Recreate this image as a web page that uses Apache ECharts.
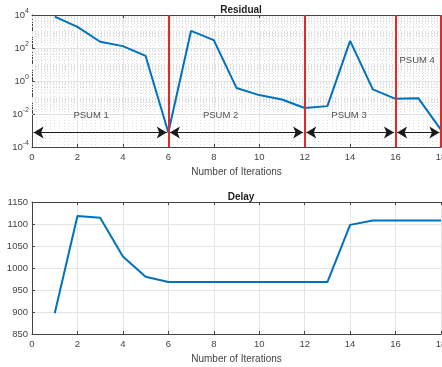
<!DOCTYPE html>
<html>
<head>
<meta charset="utf-8">
<script src="https://cdn.jsdelivr.net/npm/echarts@6/dist/echarts.min.js"></script>
<style>
  html, body { margin: 0; padding: 0; background: #fff; }
  #chart { width: 442px; height: 367px; }
</style>
</head>
<body>
<div id="chart"></div>
<script>
// iterations 1..18
var iterations = [1, 2, 3, 4, 5, 6, 7, 8, 9, 10, 11, 12, 13, 14, 15, 16, 17, 18];
var residual = [8000, 1900, 240, 130, 33, 0.00075, 1100, 300, 0.38, 0.14, 0.076, 0.023, 0.03, 270, 0.31, 0.083, 0.091, 0.0011];
var delay = [897, 1118, 1114, 1026, 980, 968, 968, 968, 968, 968, 968, 968, 968, 1098, 1108, 1108, 1108, 1108];

// PSUM boundaries (red lines) and the arrow spans between them
var boundaries = [6, 12, 16, 18];
var psumSpans = [[0, 6], [6, 12], [12, 16], [16, 18]];
var arrowY = 0.00075;
var psumLabels = [
  ['PSUM 1', 2.6, 0.008],
  ['PSUM 2', 8.3, 0.008],
  ['PSUM 3', 13.95, 0.008],
  ['PSUM 4', 16.95, 18]
];

var font = '"Liberation Sans", Arial, sans-serif';
var axisColor = '#444';
var lineBlue = '#0072BD';
var minorStyle = { color: '#e0e0e0', type: [1, 2], width: 1 };

function toPairs(ys) {
  return ys.map(function (y, i) { return [iterations[i], y]; });
}

// minor log grid values (2..9 per decade, plus odd decades)
var minorLog = [];
for (var e = -4; e < 4; e++) {
  for (var m = 1; m <= 9; m++) {
    if (m === 1 && e % 2 === 0) continue;
    minorLog.push({ yAxis: m * Math.pow(10, e) });
  }
}

var arrowLines = psumSpans.map(function (s) {
  return [
    { coord: [s[0] + 0.07, arrowY] },
    { coord: [s[1] - 0.07, arrowY] }
  ];
});

var xBase = {
  type: 'value', min: 0, max: 18, interval: 2,
  axisLine: { show: true, onZero: false, lineStyle: { color: axisColor, width: 1 } },
  axisTick: { show: true, inside: true, length: 3, lineStyle: { color: axisColor } },
  axisLabel: { color: axisColor, fontSize: 9.5, fontFamily: font, margin: 5 },
  splitLine: { show: true, lineStyle: { color: '#e4e4e4', width: 1 } },
  name: 'Number of Iterations', nameLocation: 'middle', nameGap: 20,
  nameTextStyle: { color: axisColor, fontSize: 10, fontFamily: font }
};

function topX(gridIndex) {
  return {
    type: 'value', min: 0, max: 18, interval: 2, gridIndex: gridIndex, position: 'top',
    axisLine: { show: true, lineStyle: { color: axisColor, width: 1 } },
    axisTick: { show: true, inside: true, length: 3, lineStyle: { color: axisColor } },
    axisLabel: { show: false }, splitLine: { show: false }
  };
}

var option = {
  animation: false,
  backgroundColor: '#fff',
  title: [
    { text: 'Residual', left: 236, top: 0, textAlign: 'center',
      textStyle: { fontSize: 10, fontWeight: 'bold', color: '#222', fontFamily: font } },
    { text: 'Delay', left: 236, top: 187, textAlign: 'center',
      textStyle: { fontSize: 10, fontWeight: 'bold', color: '#222', fontFamily: font } }
  ],
  grid: [
    { left: 32, right: 1, top: 15, height: 132, containLabel: false, outerBoundsMode: 'none' },
    { left: 32, right: 1, top: 202, height: 132, containLabel: false, outerBoundsMode: 'none' }
  ],
  xAxis: [
    Object.assign({}, xBase, {
      gridIndex: 0,
      minorTick: { show: true, splitNumber: 10, length: 0 },
      minorSplitLine: { show: true, lineStyle: minorStyle }
    }),
    Object.assign({}, xBase, { gridIndex: 1 }),
    topX(0),
    topX(1)
  ],
  yAxis: [
    {
      type: 'log', gridIndex: 0, min: 1e-4, max: 1e4, logBase: 10, interval: 2,
      axisLine: { show: true, lineStyle: { color: axisColor, width: 1 } },
      axisTick: { show: true, inside: true, length: 3, lineStyle: { color: axisColor } },
      splitLine: { show: true, lineStyle: { color: '#e4e4e4', width: 1 } },
      axisLabel: {
        margin: 3, color: axisColor, fontFamily: font,
        formatter: function (v) {
          var ex = Math.round(Math.log10(v));
          return '{b|10}{s|' + ex + '}';
        },
        rich: {
          b: { fontSize: 9.5, color: axisColor, fontFamily: font },
          s: { fontSize: 7, color: axisColor, fontFamily: font, padding: [0, 0, 7, 0] }
        }
      }
    },
    {
      type: 'value', gridIndex: 1, min: 850, max: 1150, interval: 50,
      axisLine: { show: true, lineStyle: { color: axisColor, width: 1 } },
      axisTick: { show: true, inside: true, length: 3, lineStyle: { color: axisColor } },
      splitLine: { show: true, lineStyle: { color: '#e4e4e4', width: 1 } },
      axisLabel: {
        margin: 4, color: axisColor, fontSize: 9.5, fontFamily: font,
        formatter: function (v) { return String(v); }
      }
    }
  ],
  series: [
    {
      // minor log grid
      type: 'line', xAxisIndex: 0, yAxisIndex: 0, data: [], silent: true, z: 1,
      markLine: {
        z: 1, silent: true, symbol: 'none', label: { show: false }, animation: false,
        lineStyle: minorStyle,
        data: minorLog
      }
    },
    {
      type: 'line', xAxisIndex: 0, yAxisIndex: 0, data: toPairs(residual),
      showSymbol: false, lineStyle: { color: lineBlue, width: 2 }, z: 3
    },
    {
      // red PSUM boundaries
      type: 'line', xAxisIndex: 0, yAxisIndex: 0, data: [], silent: true, z: 4,
      markLine: {
        z: 4, silent: true, symbol: 'none', label: { show: false }, animation: false,
        lineStyle: { color: '#e8262a', type: 'solid', width: 2 },
        data: boundaries.map(function (b) { return { xAxis: b }; })
      }
    },
    {
      // double arrows
      type: 'line', xAxisIndex: 0, yAxisIndex: 0, data: [], silent: true, z: 5,
      markLine: {
        z: 5, silent: true, symbol: ['arrow', 'arrow'], symbolSize: [9, 10], label: { show: false },
        animation: false,
        lineStyle: { color: '#1a1a1a', type: 'solid', width: 1 },
        data: arrowLines
      }
    },
    {
      type: 'scatter', xAxisIndex: 0, yAxisIndex: 0, symbolSize: 0, silent: true, z: 6,
      data: psumLabels.map(function (p) { return { name: p[0], value: [p[1], p[2]] }; }),
      label: {
        show: true, position: 'inside', formatter: '{b}',
        color: '#222', fontSize: 9.5, fontFamily: font
      }
    },
    {
      type: 'line', xAxisIndex: 1, yAxisIndex: 1, data: toPairs(delay),
      showSymbol: false, lineStyle: { color: lineBlue, width: 2 }, z: 3
    }
  ]
};

var chart = echarts.init(document.getElementById('chart'), null, { renderer: 'canvas' });
chart.setOption(option);
</script>
</body>
</html>
